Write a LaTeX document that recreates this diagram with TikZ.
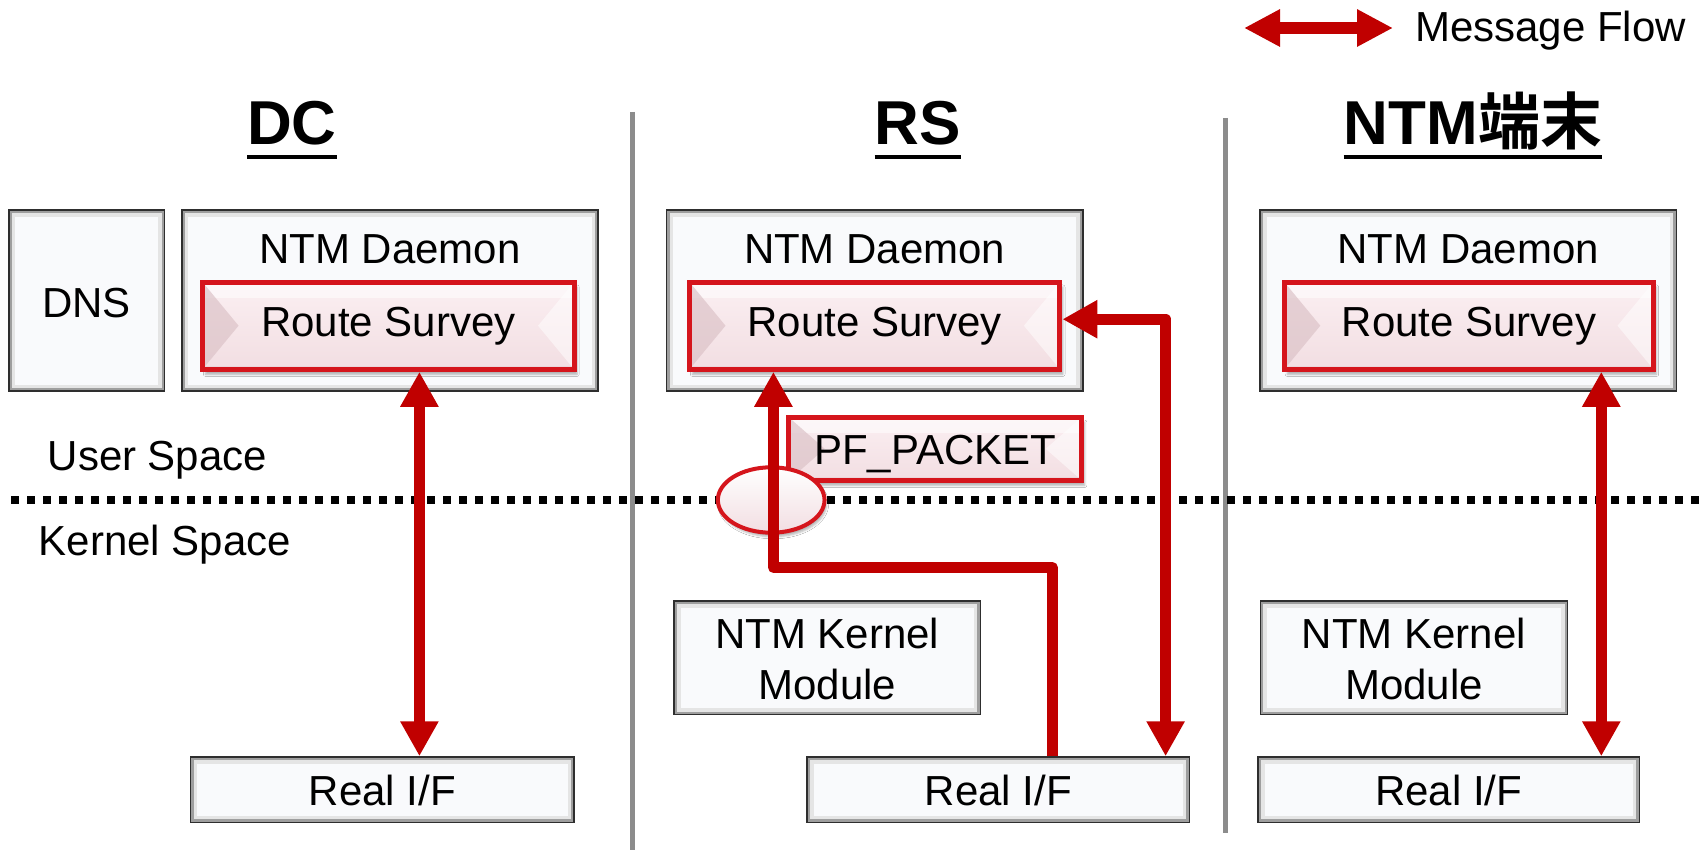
\documentclass[tikz,border=0pt]{standalone}
\usepackage{fontspec}
\setmainfont{Liberation Sans}
\newfontfamily\cjk{Noto Sans CJK JP}[BoldFont={Noto Sans CJK JP Bold}]
\usetikzlibrary{arrows.meta,shadows.blur,shapes.geometric}

\definecolor{flowred}{HTML}{C00000}
\definecolor{boxfill}{HTML}{F9FAFC}
\definecolor{boxedge}{HTML}{2E2E2E}
\definecolor{rsedge}{HTML}{D5151C}
\definecolor{rstop}{HTML}{FBEFF2}
\definecolor{rsbot}{HTML}{F2DEE2}
\definecolor{rswedge}{HTML}{DCC3C8}
\definecolor{sepgray}{HTML}{8C8C8C}

\tikzset{
  graybox/.style={draw=boxedge, line width=1.6pt, fill=boxfill, inner sep=0pt,
    path picture={
      \draw[line width=13pt, draw=black!10]
        (path picture bounding box.south west) rectangle (path picture bounding box.north east);
      \draw[line width=6pt, draw=black!38]
        (path picture bounding box.south west) rectangle (path picture bounding box.north east);
    }},
  redbox/.style={draw=rsedge, line width=5pt, top color=rstop, bottom color=rsbot, inner sep=0pt,
    blur shadow={shadow xshift=3pt, shadow yshift=-5pt, shadow opacity=30},
    path picture={
      % bevel: light top band, shaded side wedges
      \fill[white, opacity=0.55]
        (path picture bounding box.north west) rectangle
        ([yshift=-16pt]path picture bounding box.north east);
      \fill[rswedge, opacity=0.7]
        (path picture bounding box.north west) --
        ([xshift=36pt]path picture bounding box.west) --
        (path picture bounding box.south west) -- cycle;
      \fill[white, opacity=0.5]
        (path picture bounding box.north east) --
        ([xshift=-36pt]path picture bounding box.east) --
        (path picture bounding box.south east) -- cycle;
      \draw[line width=6pt, draw=rsbot!70!rswedge]
        (path picture bounding box.south west) -- (path picture bounding box.south east);
    }},
  sockshape/.style={ellipse, draw=rsedge, line width=4pt, top color=white, bottom color=rsbot,
    inner sep=0pt, blur shadow={shadow xshift=2pt, shadow yshift=-4pt, shadow opacity=30}},
  label/.style={anchor=base, inner sep=0pt, font=\fontsize{42}{50}\selectfont},
  header/.style={anchor=base, inner sep=0pt, font=\fontsize{62}{70}\selectfont\bfseries},
  hdrline/.style={line width=3.5pt},
  sepline/.style={draw=sepgray, line width=5pt},
  dotline/.style={line width=7.5pt, dash pattern=on 7.5pt off 8.5pt},
  flow/.style={draw=flowred, line width=11pt, line join=round},
  tipend/.style={-{Triangle[length=35pt,width=36pt]}},
  tipboth/.style={{Triangle[length=35pt,width=36pt]}-{Triangle[length=35pt,width=36pt]}},
}

\begin{document}
\begin{tikzpicture}[x=1pt, y=-1pt]
  \useasboundingbox[fill=white] (0,0) rectangle (1708,850);

  % legend
  \coordinate (lgA) at (1244,28);
  \coordinate (lgB) at (1393,28);
  \draw[flowred, line width=12pt,
        {Triangle[length=36pt,width=35pt]}-{Triangle[length=36pt,width=35pt]}] (lgA) -- (lgB);
  \node[label, anchor=base west] (lgtext) at (1415,42) {Message Flow};

  % column headers
  \node[header] (hdc) at (292,145) {DC};
  \node[header] (hrs) at (918,145) {RS};
  \node[header] (htm) at (1473,145) {NTM{\cjk\bfseries 端末}};
  \foreach \h in {hdc,hrs,htm}
    \draw[hdrline] (\h.west |- 0,157) -- (\h.east |- 0,157);

  % column separators
  \draw[sepline] (632,112) -- (632,850);
  \draw[sepline] (1225,118) -- (1225,833);

  % user / kernel boundary
  \draw[dotline] (11,500) -- (1700,500);
  \node[label] (uspace) at (157.4,470) {User Space};
  \node[label] (kspace) at (165,555) {Kernel Space};

  % DC column
  \node[graybox, minimum width=155.8pt, minimum height=180.9pt] (dns) at (86.6,300.6) {};
  \node[label] at (86.6,317) {DNS};
  \node[graybox, minimum width=416.1pt, minimum height=180.9pt] (dcd) at (390,300.6) {};
  \node[label] at (390,264) {NTM Daemon};
  \node[redbox, minimum width=371.5pt, minimum height=87.2pt] (dcrs) at (388.3,325.7) {};
  \node[label] at (388.3,336) {Route Survey};
  \node[graybox, minimum width=383.5pt, minimum height=65.3pt] (dcif) at (382.3,789.7) {};
  \node[label] at (382.3,805) {Real I/F};

  % RS column
  \node[graybox, minimum width=416.1pt, minimum height=180.9pt] (rsd) at (874.7,300.6) {};
  \node[label] at (874.7,264) {NTM Daemon};
  \node[redbox, minimum width=370.4pt, minimum height=87.2pt] (rsrs) at (874.7,325.7) {};
  \node[label] at (874.7,336) {Route Survey};
  \node[redbox, minimum width=293pt, minimum height=63.2pt] (pf) at (935.2,448.8) {};
  \node[label] at (935.2,464) {PF\_PACKET};
  \node[sockshape, minimum width=106.7pt, minimum height=65.4pt] (sock) at (771.2,500) {};
  \node[graybox, minimum width=306.1pt, minimum height=113.3pt] (rskm) at (827.3,657.9) {};
  \node[label] at (827.3,648) {NTM Kernel};
  \node[label] at (827.3,699) {Module};
  \node[graybox, minimum width=382.3pt, minimum height=65.3pt] (rsif) at (998.3,789.7) {};
  \node[label] at (998.3,805) {Real I/F};

  % NTM terminal column
  \node[graybox, minimum width=416.1pt, minimum height=180.9pt] (tmd) at (1468.3,300.6) {};
  \node[label] at (1468.3,264) {NTM Daemon};
  \node[redbox, minimum width=369.2pt, minimum height=87.2pt] (tmrs) at (1468.9,325.7) {};
  \node[label] at (1468.9,336) {Route Survey};
  \node[graybox, minimum width=307.2pt, minimum height=113.3pt] (tmkm) at (1413.9,657.9) {};
  \node[label] at (1413.9,648) {NTM Kernel};
  \node[label] at (1413.9,699) {Module};
  \node[graybox, minimum width=381.2pt, minimum height=65.3pt] (tmif) at (1448.7,789.7) {};
  \node[label] at (1448.7,805) {Real I/F};

  % message flows
  \coordinate (dcx) at (419.4,0);
  \draw[flow, tipboth] (dcrs.south -| dcx) -- (dcif.north -| dcx);

  \coordinate (inbend) at (1052.3,567.5);
  \coordinate (inup) at (773.4,567.5);
  \draw[flow, tipend] (rsif.north -| inbend) -- (inbend) -- (inup) -- (rsrs.south -| inup);

  \coordinate (outbend) at (1165.6,319.2);
  \draw[flow, tipboth] (rsrs.east |- outbend) -- (outbend) -- (rsif.north -| outbend);

  \coordinate (tmx) at (1601.3,0);
  \draw[flow, tipboth] (tmrs.south -| tmx) -- (tmif.north -| tmx);
\end{tikzpicture}
\end{document}
